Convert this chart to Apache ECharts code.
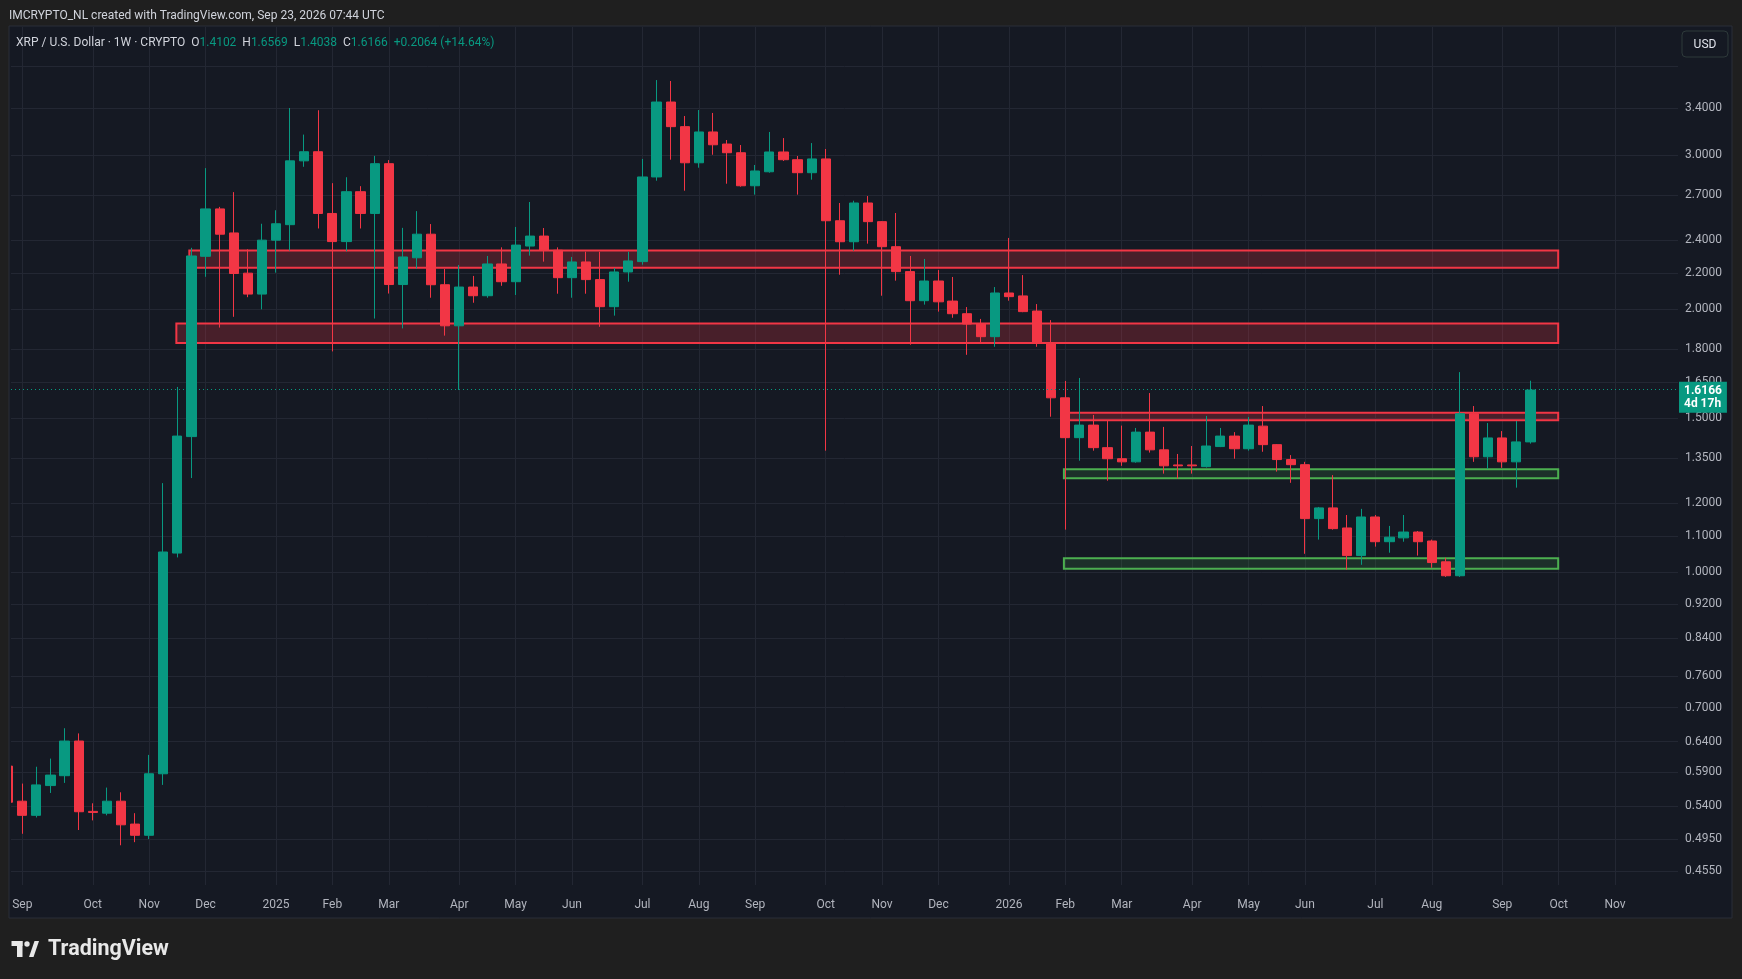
<!DOCTYPE html>
<html>
<head>
<meta charset="utf-8">
<script src="https://cdn.jsdelivr.net/npm/echarts@6/dist/echarts.min.js"></script>
<style>
html,body{margin:0;padding:0;background:#1f1f1f;}
#chart{width:1742px;height:979px;}
</style>
</head>
<body>
<div id="chart"></div>
<script>
// ---------------- DATA ----------------
const firstWeek = '2024-08-26';   // first (partially visible) weekly candle
const anchorWeek = '2024-09-02';  // week index 0

const opens = [0.600,
 0.547,0.527,0.570,0.585,0.641,0.5325,0.530,0.547,0.515,0.500,
 0.588,1.052,1.430,2.300,2.606,2.446,2.200,2.082,2.400,2.500,
 2.958,3.030,2.575,2.391,2.727,2.575,2.936,2.135,2.291,2.438,
 2.134,1.915,2.121,2.073,2.254,2.151,2.363,2.426,2.337,2.174,
 2.266,2.163,2.014,2.207,2.268,2.835,3.454,3.237,2.943,3.192,
 3.092,3.022,2.770,2.874,3.028,2.967,2.867,2.973,2.526,2.390,
 2.647,2.520,2.359,2.209,2.046,2.155,2.044,1.977,1.924,1.861,
 2.088,2.072,1.991,1.832,1.584,1.426,1.474,1.389,1.349,1.338,
 1.447,1.381,1.327,1.327,1.321,1.393,1.432,1.385,1.470,1.400,
 1.346,1.328,1.152,1.185,1.124,1.045,1.157,1.084,1.095,1.112,
 1.086,1.028,0.991,1.519,1.356,1.425,1.338,1.4102];
const highs = [0.612,
 0.573,0.599,0.612,0.663,0.654,0.544,0.567,0.560,0.530,0.618,
 1.265,1.630,2.352,2.902,2.620,2.724,2.343,2.506,2.597,3.400,
 3.170,3.380,2.789,2.833,2.767,2.997,2.964,2.479,2.591,2.504,
 2.224,2.248,2.184,2.302,2.355,2.485,2.654,2.478,2.355,2.296,
 2.328,2.328,2.230,2.328,2.973,3.660,3.651,3.329,3.382,3.356,
 3.125,3.084,2.926,3.192,3.141,2.996,3.100,3.052,2.647,2.663,
 2.696,2.524,2.578,2.302,2.284,2.218,2.178,2.012,1.950,2.121,
 2.414,2.189,2.028,1.944,1.656,1.669,1.514,1.491,1.472,1.463,
 1.604,1.467,1.366,1.395,1.510,1.463,1.447,1.506,1.550,1.402,
 1.362,1.338,1.188,1.292,1.163,1.182,1.163,1.130,1.163,1.115,
 1.090,1.039,1.695,1.550,1.482,1.451,1.490,1.6569];
const lows = [0.540,
 0.502,0.524,0.559,0.574,0.507,0.520,0.527,0.487,0.491,0.495,
 0.571,1.040,1.282,2.179,1.906,1.961,2.065,2.000,2.203,2.335,
 2.912,2.475,1.790,2.330,2.475,1.952,2.085,1.902,2.226,2.062,
 1.866,1.617,2.035,2.062,2.128,2.077,2.304,2.268,2.084,2.062,
 2.084,1.910,1.967,2.151,2.250,2.807,2.967,2.734,2.905,3.006,
 2.785,2.763,2.706,2.867,2.957,2.706,2.815,1.378,2.191,2.334,
 2.378,2.073,2.157,1.822,2.025,1.988,1.956,1.774,1.832,1.812,
 2.046,1.985,1.812,1.507,1.119,1.342,1.378,1.273,1.324,1.335,
 1.371,1.297,1.280,1.297,1.318,1.391,1.349,1.378,1.374,1.304,
 1.266,1.050,1.090,1.119,1.007,1.020,1.070,1.053,1.084,1.045,
 1.012,0.988,0.988,1.338,1.313,1.317,1.250,1.4038];
const closes = [0.5455,
 0.527,0.571,0.586,0.641,0.532,0.531,0.547,0.514,0.500,0.588,
 1.055,1.432,2.302,2.606,2.438,2.198,2.082,2.400,2.506,2.958,
 3.030,2.575,2.391,2.727,2.575,2.936,2.135,2.296,2.438,2.134,
 1.915,2.121,2.073,2.254,2.151,2.369,2.426,2.337,2.174,2.266,
 2.163,2.014,2.207,2.272,2.835,3.454,3.237,2.943,3.192,3.086,
 3.022,2.770,2.880,3.028,2.967,2.867,2.973,2.526,2.390,2.647,
 2.520,2.359,2.209,2.046,2.155,2.040,1.977,1.924,1.861,2.088,
 2.068,1.988,1.832,1.584,1.426,1.474,1.389,1.349,1.338,1.447,
 1.381,1.324,1.324,1.324,1.395,1.432,1.385,1.474,1.400,1.346,
 1.328,1.152,1.185,1.122,1.045,1.157,1.084,1.097,1.112,1.084,
 1.026,0.991,1.519,1.356,1.425,1.338,1.4102,1.6166];

const monthTickDates = ['2024-09-02','2024-10-07','2024-11-04','2024-12-02','2025-01-06','2025-02-03','2025-03-03',
 '2025-04-07','2025-05-05','2025-06-02','2025-07-07','2025-08-04','2025-09-01','2025-10-06','2025-11-03',
 '2025-12-01','2026-01-05','2026-02-02','2026-03-02','2026-04-06','2026-05-04','2026-06-01','2026-07-06',
 '2026-08-03','2026-09-07','2026-10-05','2026-11-02'];
const monthTickLabels = ['Sep','Oct','Nov','Dec','2025','Feb','Mar','Apr','May','Jun','Jul','Aug','Sep','Oct','Nov',
 'Dec','2026','Feb','Mar','Apr','May','Jun','Jul','Aug','Sep','Oct','Nov'];

const priceTicks = [0.455,0.495,0.54,0.59,0.64,0.70,0.76,0.84,0.92,1.0,1.1,1.2,1.35,1.5,1.65,1.8,2.0,2.2,2.4,2.7,3.0,3.4];
const priceGridOnly = [3.8];   // grid line drawn, label hidden at the pane top

// zones: x in week index units (from anchorWeek), prices lo/hi
const zoneFrom = [11.85, 10.93, 73.9, 73.9, 73.9];
const zoneTo   = [108.97, 108.97, 108.97, 108.97, 108.97];
const zoneLo   = [2.232, 1.830, 1.493, 1.281, 1.0095];
const zoneHi   = [2.335, 1.927, 1.523, 1.312, 1.0376];
const zoneKind = ['resistance','resistance','resistance','support','support'];

const lastPrice = 1.6166;
const lastCountdown = '4d 17h';

// ---------------- BUILD ----------------
const WEEK = 7 * 86400000;
function weekIndex(d) { return Math.round((Date.parse(d) - Date.parse(anchorWeek)) / WEEK); }
const firstIdx = weekIndex(firstWeek);
const candleData = opens.map((o, i) => [firstIdx + i, o, closes[i], lows[i], highs[i]]);
const monthIdx = monthTickDates.map(weekIndex);
const monthLabelMap = {};
monthIdx.forEach((v, i) => { monthLabelMap[v] = monthTickLabels[i]; });

const UP = '#089981', DOWN = '#f23645';
const zoneStyle = {
  resistance: { color: 'rgba(242,54,69,0.23)', borderColor: '#f23645', borderWidth: 2 },
  support: { color: 'rgba(76,175,80,0.16)', borderColor: '#4caf50', borderWidth: 2 }
};
const markAreaData = zoneFrom.map((f, i) => [
  { xAxis: f, yAxis: zoneHi[i], itemStyle: zoneStyle[zoneKind[i]] },
  { xAxis: zoneTo[i], yAxis: zoneLo[i] }
]);

const FONT = 'Roboto, "Liberation Sans", sans-serif';
const OUTER = '#1f1f1f', PANEL = '#151923', GRID = '#232733', TXT = '#b2b5be';

const chart = echarts.init(document.getElementById('chart'), null, { renderer: 'canvas' });
chart.setOption({
  backgroundColor: PANEL,
  animation: false,
  grid: { left: 11, right: 64, top: 27, bottom: 94 },
  xAxis: {
    type: 'value', min: -0.8017, max: 117.47,
    axisLine: { show: false },
    axisTick: { show: false, customValues: monthIdx },
    axisLabel: {
      customValues: monthIdx, color: TXT, fontSize: 12, fontFamily: FONT, margin: 14,
      formatter: v => monthLabelMap[Math.round(v)] || ''
    },
    splitLine: { show: true, lineStyle: { color: GRID, width: 1 } }
  },
  yAxis: {
    type: 'log', logBase: 10, position: 'right', min: 0.43859, max: 4.2093,
    axisLine: { show: false },
    axisTick: { show: false, customValues: priceTicks.concat(priceGridOnly) },
    axisLabel: {
      customValues: priceTicks, color: TXT, fontSize: 12, fontFamily: FONT,
      align: 'right', margin: 44, padding: [3, 0, 0, 0], formatter: v => Number(v).toFixed(4)
    },
    splitLine: { show: true, lineStyle: { color: GRID, width: 1 } }
  },
  series: [{
    type: 'candlestick',
    data: candleData,
    barWidth: 9.7,
    clip: true,
    silent: true,
    itemStyle: { color: UP, color0: DOWN, borderColor: UP, borderColor0: DOWN, borderWidth: 1 },
    markArea: { silent: true, data: markAreaData },
    markLine: {
      silent: true, symbol: 'none', animation: false,
      lineStyle: { color: UP, type: [1, 3], width: 1 },
      label: {
        show: true, position: 'end', distance: 1, offset: [0, 8],
        backgroundColor: UP, padding: [3, 5, 2, 5],
        formatter: '{a|' + lastPrice.toFixed(4) + '}\n{b|' + lastCountdown + '}',
        rich: {
          a: { color: '#ffffff', fontSize: 12, fontWeight: 'bold', fontFamily: FONT, lineHeight: 13 },
          b: { color: '#ffffff', fontSize: 12, fontWeight: 'bold', fontFamily: FONT, lineHeight: 13 }
        }
      },
      data: [{ yAxis: lastPrice }]
    }
  }],
  graphic: [
    // outer frame
    { type: 'rect', z: 100, shape: { x: 0, y: 0, width: 1742, height: 26 }, style: { fill: OUTER } },
    { type: 'rect', z: 100, shape: { x: 0, y: 918, width: 1742, height: 61 }, style: { fill: OUTER } },
    { type: 'rect', z: 100, shape: { x: 0, y: 0, width: 9, height: 979 }, style: { fill: OUTER } },
    { type: 'rect', z: 100, shape: { x: 9, y: 26, width: 2, height: 892 }, style: { fill: PANEL } },
    { type: 'rect', z: 100, shape: { x: 1732, y: 0, width: 10, height: 979 }, style: { fill: OUTER } },
    { type: 'rect', z: 101, shape: { x: 9, y: 26, width: 1723, height: 892 }, style: { fill: 'none', stroke: '#2a2e39', lineWidth: 1 } },
    // title
    { type: 'text', z: 102, x: 9, y: 15.5, style: { text: 'IMCRYPTO_NL created with TradingView.com, Sep 23, 2026 07:44 UTC', fill: '#d1d4dc', fontSize: 12, fontFamily: FONT, textVerticalAlign: 'middle' } },
    // legend
    { type: 'text', z: 102, x: 16, y: 43, style: {
      text: '{t|XRP / U.S. Dollar · 1W · CRYPTO}  {k|O}{v|1.4102}  {k|H}{v|1.6569}  {k|L}{v|1.4038}  {k|C}{v|1.6166}  {v|+0.2064 (+14.64%)}',
      fontSize: 12, fontFamily: FONT, textVerticalAlign: 'middle',
      rich: {
        t: { fill: '#d1d4dc', fontSize: 12, fontFamily: FONT },
        k: { fill: '#d1d4dc', fontSize: 12, fontFamily: FONT },
        v: { fill: UP, fontSize: 12, fontFamily: FONT }
      } } },
    // USD button
    { type: 'rect', z: 102, shape: { x: 1682, y: 31, width: 46, height: 26, r: 4 }, style: { fill: PANEL, stroke: '#2e3a3a', lineWidth: 1 } },
    { type: 'text', z: 103, x: 1705, y: 44.5, style: { text: 'USD', fill: '#e0e3eb', fontSize: 12, fontFamily: FONT, textAlign: 'center', textVerticalAlign: 'middle' } },
    // TradingView logo
    { type: 'rect', z: 102, shape: { x: 11.5, y: 941, width: 11, height: 5 }, style: { fill: '#e8e8e8' } },
    { type: 'rect', z: 102, shape: { x: 17, y: 941, width: 5.5, height: 16 }, style: { fill: '#e8e8e8' } },
    { type: 'circle', z: 102, shape: { cx: 27, cy: 944, r: 2.7 }, style: { fill: '#e8e8e8' } },
    { type: 'polygon', z: 102, shape: { points: [[29, 957], [34.5, 941], [39, 941], [33.5, 957]] }, style: { fill: '#e8e8e8' } },
    { type: 'text', z: 102, x: 48, y: 950, style: { text: 'TradingView', fill: '#e8e8e8', fontSize: 21.5, fontWeight: 'bold', fontFamily: FONT, textVerticalAlign: 'middle' } }
  ]
});
</script>
</body>
</html>
